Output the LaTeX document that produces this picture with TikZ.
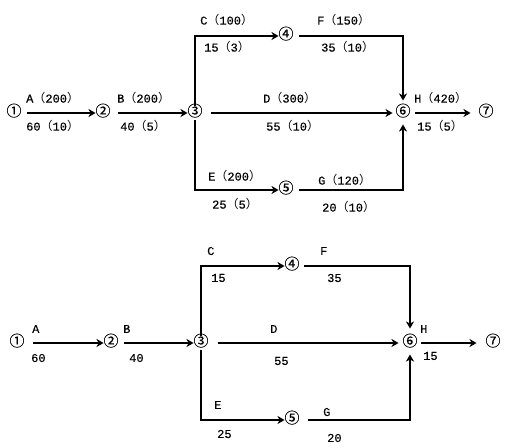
\documentclass[tikz,border=0pt]{standalone}
\usepackage{fontspec}
\newfontfamily\lblf{Liberation Mono}[FakeBold=0.25]
\newfontfamily\cjk{Noto Sans CJK SC}
\newfontfamily\cjkc{Noto Sans CJK SC}[FakeBold=0.4]
\usetikzlibrary{arrows.meta}
\newcommand{\myLP}{{\cjk（}}
\newcommand{\myRP}{{\cjk）}}
\newcommand{\ev}[1]{\raisebox{-3.3pt}[0pt][0pt]{#1}}
\tikzset{
  evt/.style={circle, minimum size=12pt, inner sep=0pt, outer sep=0pt, font=\cjkc\fontsize{15}{15}\selectfont},
  act/.style={line width=1.8pt, -{Stealth[length=7pt,width=8pt,inset=2pt]}},
  lbl/.style={anchor=west, inner sep=0pt, font=\lblf\fontsize{12}{12}\selectfont},
}
\begin{document}
\begin{tikzpicture}[x=1pt,y=-1pt]
\useasboundingbox (0,0) rectangle (508,447);
% ---------- top network ----------
\node[evt] (a1) at (14,113) {\ev{①}};
\node[evt] (a2) at (103,113) {\ev{②}};
\node[evt] (a3) at (195,113) {\ev{③}};
\node[evt] (a4) at (286,36) {\ev{④}};
\node[evt] (a5) at (286,190) {\ev{⑤}};
\node[evt] (a6) at (403,113) {\ev{⑥}};
\node[evt] (a7) at (486,113) {\ev{⑦}};
\draw[act, shorten <=6pt] (a1) -- (a2);
\draw[act, shorten <=8pt] (a2) -- (a3);
\draw[act] (a3.north) |- (a4.west);
\draw[act, shorten <=6pt, shorten >=5pt] (a4.east) -| (a6.north);
\draw[act, shorten <=9pt, shorten >=3pt] (a3.east) -- (a6.west);
\draw[act] (a3.south) |- (a5.west);
\draw[act, shorten <=6pt, shorten >=4pt] (a5.east) -| (a6.south);
\draw[act, shorten <=5pt, shorten >=8pt] (a6.east) -- (a7.west);
\node[lbl] (tA1) at (26,98) {A\myLP200\myRP};
\node[lbl] (tA2) at (26,126) {60\myLP10\myRP};
\node[lbl] (tB1) at (117,98) {B\myLP200\myRP};
\node[lbl] (tB2) at (120,126) {40\myLP5\myRP};
\node[lbl] (tC1) at (200,20) {C\myLP100\myRP};
\node[lbl] (tC2) at (204,47) {15\myLP3\myRP};
\node[lbl] (tF1) at (317,20) {F\myLP150\myRP};
\node[lbl] (tF2) at (321,47) {35\myLP10\myRP};
\node[lbl] (tD1) at (263,98) {D\myLP300\myRP};
\node[lbl] (tD2) at (266,126) {55\myLP10\myRP};
\node[lbl] (tH1) at (414,98) {H\myLP420\myRP};
\node[lbl] (tH2) at (417,126) {15\myLP5\myRP};
\node[lbl] (tE1) at (208,176) {E\myLP200\myRP};
\node[lbl] (tE2) at (212,204) {25\myLP5\myRP};
\node[lbl] (tG1) at (318,180) {G\myLP120\myRP};
\node[lbl] (tG2) at (322,207) {20\myLP10\myRP};
% ---------- bottom network ----------
\node[evt] (b1) at (17,343) {\ev{①}};
\node[evt] (b2) at (111,343) {\ev{②}};
\node[evt] (b3) at (201,343) {\ev{③}};
\node[evt] (b4) at (292,266) {\ev{④}};
\node[evt] (b5) at (292,420) {\ev{⑤}};
\node[evt] (b6) at (410,343) {\ev{⑥}};
\node[evt] (b7) at (493,343) {\ev{⑦}};
\draw[act, shorten <=9pt] (b1) -- (b2);
\draw[act, shorten <=6pt] (b2) -- (b3);
\draw[act] (b3.north) |- (b4.west);
\draw[act, shorten <=5pt, shorten >=7pt] (b4.east) -| (b6.north);
\draw[act, shorten <=10pt, shorten >=4pt] (b3.east) -- (b6.west);
\draw[act] (b3.south) |- (b5.west);
\draw[act, shorten <=9pt, shorten >=4pt] (b5.east) -| (b6.south);
\draw[act, shorten <=4pt, shorten >=9pt] (b6.east) -- (b7.west);
\node[lbl] (uA1) at (32,329) {A};
\node[lbl] (uA2) at (31,358) {60};
\node[lbl] (uB1) at (123,329) {B};
\node[lbl] (uB2) at (129,358) {40};
\node[lbl] (uC1) at (207,251) {C};
\node[lbl] (uC2) at (211,278) {15};
\node[lbl] (uF1) at (320,251) {F};
\node[lbl] (uF2) at (327,278) {35};
\node[lbl] (uD1) at (270,329) {D};
\node[lbl] (uD2) at (274,361) {55};
\node[lbl] (uH1) at (420,329) {H};
\node[lbl] (uH2) at (423,356) {15};
\node[lbl] (uE1) at (214,405) {E};
\node[lbl] (uE2) at (217,434) {25};
\node[lbl] (uG1) at (323,412) {G};
\node[lbl] (uG2) at (327,438) {20};
\end{tikzpicture}
\end{document}
